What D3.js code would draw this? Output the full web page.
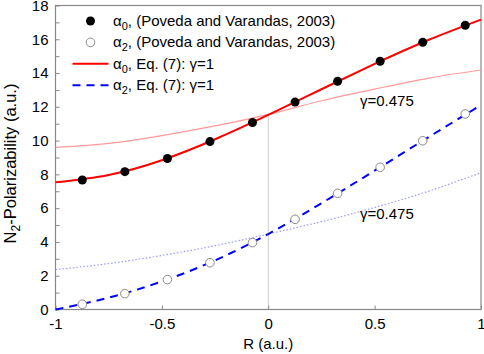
<!DOCTYPE html>
<html>
<head>
<meta charset="utf-8">
<script src="https://cdn.jsdelivr.net/npm/d3@7"></script>
<style>
  body { margin: 0; background: #fff; }
  text { font-family: "Liberation Sans", Arial, sans-serif; fill: #000; }
</style>
</head>
<body>
<div id="chart"></div>
<script>
// Poveda and Varandas (2003) points, R measured from equilibrium
const rPoints = [-0.874, -0.674, -0.474, -0.274, -0.074, 0.126, 0.326, 0.526, 0.726, 0.926];
const alpha0Poveda = [7.67, 8.16, 8.94, 9.94, 11.07, 12.28, 13.51, 14.70, 15.82, 16.83];
const alpha2Poveda = [0.31, 0.94, 1.77, 2.77, 3.96, 5.34, 6.88, 8.42, 9.99, 11.58];

// Eq. (7) curves
const rCurve = [-1, -0.75, -0.5, -0.25, 0, 0.25, 0.5, 0.75, 1];
const alpha0Gamma1 = [7.53, 7.97, 8.84, 10.08, 11.52, 13.04, 14.54, 15.94, 17.16];
const alpha0Gamma0475 = [9.60, 9.84, 10.30, 10.87, 11.55, 12.36, 13.05, 13.69, 14.18];
const alpha2Gamma1 = [0.0, 0.70, 1.66, 2.91, 4.47, 6.29, 8.22, 10.18, 12.1];
const alpha2Gamma0475 = [2.36, 2.72, 3.20, 3.78, 4.47, 5.20, 6.04, 6.99, 8.10];

const xTicks = [-1, -0.5, 0, 0.5, 1];
const yTicks = d3.range(0, 19, 1);
const yLabels = [0, 2, 4, 6, 8, 10, 12, 14, 16, 18];

let width = 484,
    height = 354,
    margin = ({ top: 5.5, right: 3, bottom: 44.5, left: 55.5 }),
    fontSize = 15;

const svg = d3.select("#chart")
  .append("svg")
  .attr("width", width)
  .attr("height", height);

let x = d3.scaleLinear()
  .domain([-1, 1])
  .range([margin.left, width - margin.right]);

let y = d3.scaleLinear()
  .domain([0, 18])
  .range([height - margin.bottom, margin.top]);

// vertical guide at R = 0
svg.append("line")
  .attr("x1", x(0)).attr("x2", x(0))
  .attr("y1", y(0)).attr("y2", y(11.5))
  .attr("stroke", "#cccccc")
  .attr("stroke-width", 1);

// axes, ticks pointing inward
let xAxis = svg.append("g")
  .attr("transform", `translate(0,${y(0)})`)
  .call(d3.axisBottom(x).tickValues(xTicks).tickSize(-4).tickPadding(9)
    .tickFormat(d => String(d)));

let yAxis = svg.append("g")
  .attr("transform", `translate(${x(-1)},0)`)
  .call(d3.axisLeft(y).tickValues(yTicks).tickSize(-4).tickPadding(7)
    .tickFormat(d => yLabels.includes(d) ? d : ""));

for (let g of [xAxis, yAxis]) {
  g.select(".domain").remove();
  g.selectAll(".tick line").attr("stroke", "#888");
  g.selectAll(".tick text").attr("font-size", fontSize).attr("font-family", "Liberation Sans, Arial, sans-serif");
}

// frame
svg.append("rect")
  .attr("x", x(-1)).attr("y", y(18))
  .attr("width", x(1) - x(-1))
  .attr("height", y(0) - y(18))
  .attr("fill", "none")
  .attr("stroke", "#888")
  .attr("stroke-width", 1.2);

let line = d3.line()
  .x((d, i) => x(rCurve[i]))
  .y(d => y(d))
  .curve(d3.curveNatural);

const curves = [
  { values: alpha0Gamma0475, color: "#ff9a9a", width: 1.2, dash: null },
  { values: alpha2Gamma0475, color: "#9a9aff", width: 1.2, dash: "1.5,2" },
  { values: alpha0Gamma1, color: "#ff0000", width: 2, dash: null },
  { values: alpha2Gamma1, color: "#0000ff", width: 2, dash: "8,6" }
];

for (let c of curves) {
  svg.append("path")
    .datum(c.values)
    .attr("fill", "none")
    .attr("stroke", c.color)
    .attr("stroke-width", c.width)
    .attr("stroke-dasharray", c.dash)
    .attr("d", line);
}

svg.append("g")
  .selectAll("circle")
  .data(alpha2Poveda)
  .join("circle")
  .attr("cx", (d, i) => x(rPoints[i]))
  .attr("cy", d => y(d))
  .attr("r", 4.3)
  .attr("fill", "#fff")
  .attr("stroke", "#8a8a8a")
  .attr("stroke-width", 1);

svg.append("g")
  .selectAll("circle")
  .data(alpha0Poveda)
  .join("circle")
  .attr("cx", (d, i) => x(rPoints[i]))
  .attr("cy", d => y(d))
  .attr("r", 4.5)
  .attr("fill", "#000");

// gamma annotations
svg.append("text").attr("x", 360).attr("y", 105.5).attr("font-size", fontSize).text("γ=0.475");
svg.append("text").attr("x", 360).attr("y", 218.5).attr("font-size", fontSize).text("γ=0.475");

// legend
function labelWithSub(sel, base, sub, rest, subSize) {
  sel.append("tspan").text(base);
  sel.append("tspan").text(sub).attr("font-size", subSize).attr("dy", 4);
  sel.append("tspan").text(rest).attr("dy", -4);
}

const legendRows = [
  { sub: "0", rest: ", (Poveda and Varandas, 2003)", kind: "filled" },
  { sub: "2", rest: ", (Poveda and Varandas, 2003)", kind: "open" },
  { sub: "0", rest: ", Eq. (7): γ=1", kind: "red" },
  { sub: "2", rest: ", Eq. (7): γ=1", kind: "blue" }
];

legendRows.forEach((row, i) => {
  let cy = 21 + i * 21.4;
  let g = svg.append("g");
  if (row.kind === "filled") {
    g.append("circle").attr("cx", 90.5).attr("cy", cy).attr("r", 4.5).attr("fill", "#000");
  } else if (row.kind === "open") {
    g.append("circle").attr("cx", 90.5).attr("cy", cy).attr("r", 4.3)
      .attr("fill", "#fff").attr("stroke", "#8a8a8a");
  } else {
    g.append("line").attr("x1", 72.5).attr("x2", 108.5).attr("y1", cy).attr("y2", cy)
      .attr("stroke", row.kind === "red" ? "#ff0000" : "#0000ff")
      .attr("stroke-width", 2)
      .attr("stroke-dasharray", row.kind === "blue" ? "8,6" : null);
  }
  let t = g.append("text").attr("x", 113).attr("y", cy + 5).attr("font-size", fontSize);
  labelWithSub(t, "α", row.sub, row.rest, 11);
});

// axis titles
svg.append("text")
  .attr("x", x(0))
  .attr("y", 349)
  .attr("text-anchor", "middle")
  .attr("font-size", fontSize)
  .text("R (a.u.)");

let yt = svg.append("text")
  .attr("transform", `translate(16,163.5) rotate(-90)`)
  .attr("text-anchor", "middle")
  .attr("font-size", 16.5);
labelWithSub(yt, "N", "2", "-Polarizability (a.u.)", 12);
</script>
</body>
</html>
